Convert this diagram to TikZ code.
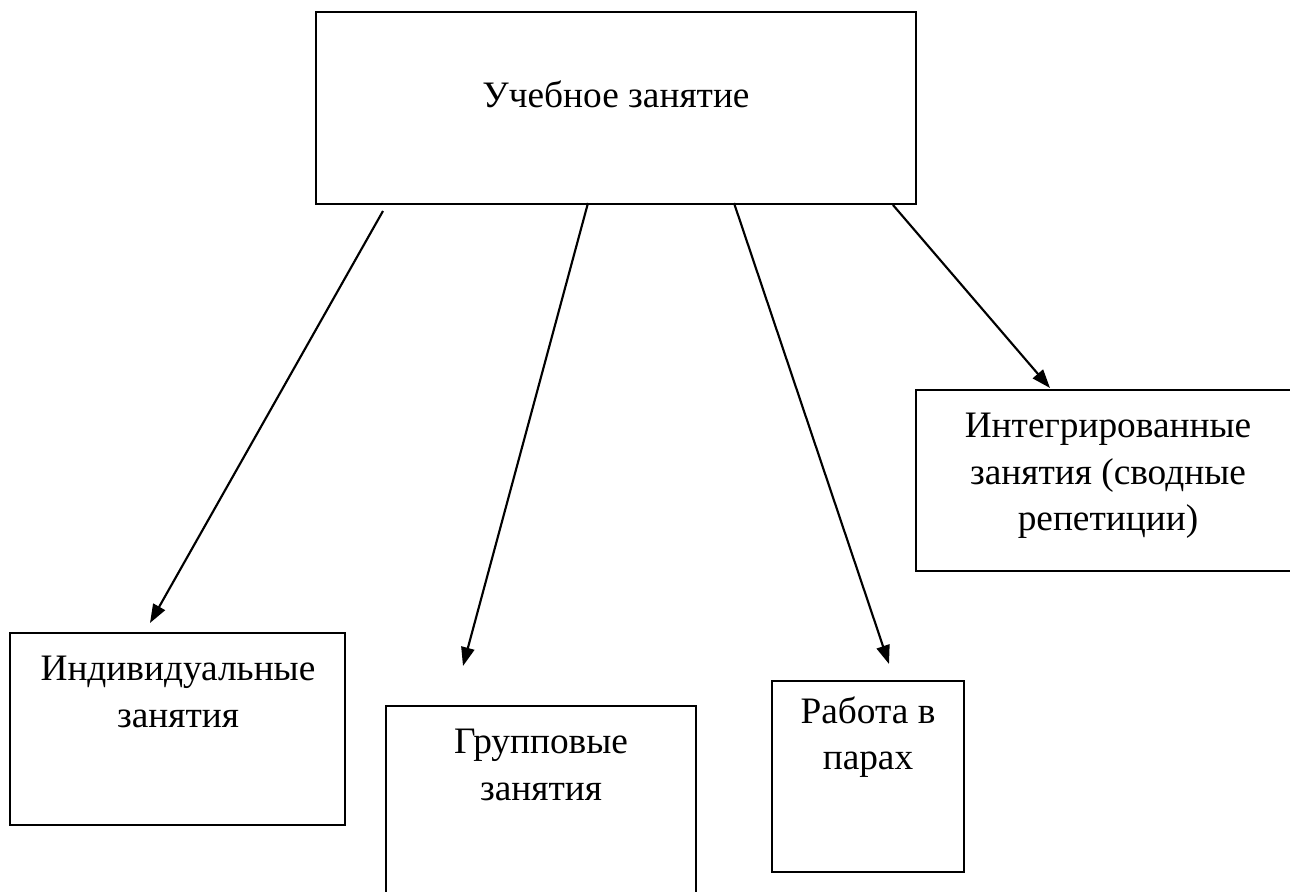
\documentclass[tikz,border=0pt]{standalone}
\usepackage{fontspec}
\setmainfont{Liberation Serif}
\usetikzlibrary{arrows.meta}
\begin{document}
\begin{tikzpicture}[x=0.75pt,y=-0.75pt,
  box/.style={draw,line width=1.6pt,inner sep=0pt},
  lbl/.style={align=center,font=\fontsize{28}{35}\selectfont,inner sep=0pt},
  arr/.style={line width=1.6pt,-{Triangle[length=14pt,width=10pt]}}]
\useasboundingbox (0,0) rectangle (1290,892);
\node[box,minimum width=450pt,minimum height=144pt] (top) at (616,108) {};
\node[lbl] (toptxt) at (616,94) {Учебное занятие};
\node[box,minimum width=251.25pt,minimum height=144pt] (ind) at (177.5,729) {};
\node[lbl] (indtxt) at (178,692) {Индивидуальные\\занятия};
\node[box,minimum width=232.5pt,minimum height=153pt] (grp) at (541,808) {};
\node[lbl] (grptxt) at (541,765) {Групповые\\занятия};
\node[box,minimum width=144pt,minimum height=143.25pt] (par) at (868,776.5) {};
\node[lbl] (partxt) at (868,737) {Работа в\\парах};
\node[box,minimum width=288pt,minimum height=135.75pt] (int) at (1108,480.5) {};
\node[lbl] (inttxt) at (1108,476) {Интегрированные\\занятия (сводные\\репетиции)};
\coordinate (s1) at (383,211); \coordinate (e1) at (150,623);
\coordinate (s2) at (588,203); \coordinate (e2) at (463,666);
\coordinate (s3) at (734,203); \coordinate (e3) at (889,664);
\coordinate (s4) at (893,205); \coordinate (e4) at (1050,388);
\draw[arr] (s1) -- (e1);
\draw[arr] (s2) -- (e2);
\draw[arr] (s3) -- (e3);
\draw[arr] (s4) -- (e4);
\end{tikzpicture}
\end{document}
